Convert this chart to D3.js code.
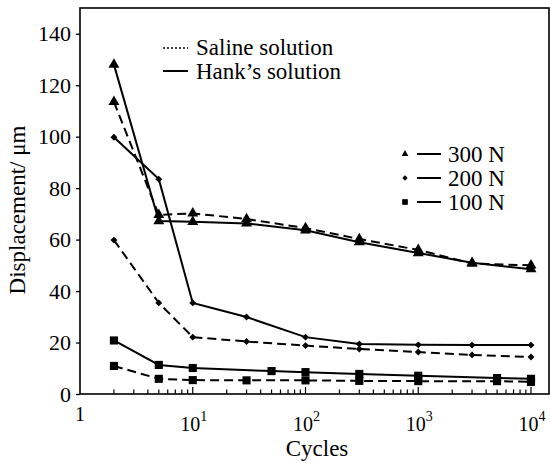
<!DOCTYPE html>
<html>
<head>
	<meta charset="utf-8">
	<title>Displacement vs cycles</title>
	<script src="https://cdn.jsdelivr.net/npm/d3@7/dist/d3.min.js"></script>
	<style type="text/css">
		body { margin: 0; background: #fff; }
		svg { display: block; }
		svg text { font-family: "Liberation Serif", "Times New Roman", serif; fill: #000; }
	</style>
</head>
<body>

	<svg width="550" height="463" class="chart"></svg>

	<script type="text/javascript">

		// cycles where each series was measured
		var cycles = [2, 5, 10, 30, 100, 300, 1000, 3000, 10000]
		var cycles_hank100 = [2, 5, 10, 50, 100, 300, 1000, 5000, 10000]
		var cycles_saline100 = [2, 5, 10, 30, 100, 300, 1000, 5000, 10000]

		// displacement, um
		var hank300 = [128, 67.2, 66.9, 66.3, 63.6, 59, 54.8, 51, 48.5]
		var saline300 = [113.5, 69.6, 70.2, 68, 64.5, 60.2, 56, 50.7, 50]
		var hank200 = [99.8, 83.5, 35.4, 29.9, 22.1, 19.4, 19.1, 19, 19]
		var saline200 = [59.8, 35.4, 22.1, 20.4, 18.8, 17.5, 16.3, 15.2, 14.4]
		var hank100 = [20.8, 11.3, 10.1, 8.9, 8.5, 7.8, 7.1, 6.2, 5.9]
		var saline100 = [10.9, 5.9, 5.4, 5.3, 5.3, 5.1, 5.0, 5.0, 4.7]

		var y_ticks = [0, 20, 40, 60, 80, 100, 120, 140]
		var x_major = [1, 10, 100, 1000, 10000]
		var x_labels = ['1', '1', '2', '3', '4']   // '1' alone, else exponent of 10

		var load_labels = ['300 N', '200 N', '100 N']
		var solution_labels = ['Saline solution', 'Hank\u2019s solution']

		function zip(xs, ys) {
			return xs.map(function(x, i) { return {x: x, y: ys[i]} })
		}

		// diamonds = squares turned 45 degrees
		var series = [
			{data: zip(cycles, hank300), shape: d3.symbolTriangle, size: 52, rot: 0, dash: null},
			{data: zip(cycles, saline300), shape: d3.symbolTriangle, size: 52, rot: 0, dash: '9,5'},
			{data: zip(cycles, hank200), shape: d3.symbolSquare, size: 24, rot: 45, dash: null},
			{data: zip(cycles, saline200), shape: d3.symbolSquare, size: 24, rot: 45, dash: '9,5'},
			{data: zip(cycles_hank100, hank100), shape: d3.symbolSquare, size: 66, rot: 0, dash: null},
			{data: zip(cycles_saline100, saline100), shape: d3.symbolSquare, size: 66, rot: 0, dash: '9,5'}
		]

		var box = {'left': 80, 'right': 549, 'top': 8, 'bottom': 394}

		var svg = d3.select('.chart')

		var x = d3.scaleLog().domain([1, 10000]).range([80, 531])
		var y = d3.scaleLinear().domain([0, 150]).range([box.bottom, box.top])

		// frame
		svg.append('rect')
			.attr('x', box.left).attr('y', box.top)
			.attr('width', box.right - box.left).attr('height', box.bottom - box.top)
			.attr('fill', 'none').attr('stroke', '#000').attr('stroke-width', 1.6)

		// y axis
		var gy = svg.append('g')
			.attr('transform', 'translate(' + box.left + ',0)')
			.call(d3.axisLeft(y).tickValues(y_ticks).tickSize(4).tickPadding(5))
		gy.attr('font-family', null)
		gy.select('.domain').remove()
		gy.selectAll('line').attr('stroke', '#000').attr('stroke-width', 1.3)
		gy.selectAll('text').attr('font-size', 22).attr('fill', '#000')

		// x axis: minor ticks from the scale, majors separately
		var minor = x.ticks().filter(function(t) { return x_major.indexOf(t) < 0 })
		var gx = svg.append('g').attr('transform', 'translate(0,' + box.bottom + ')')
		gx.selectAll('.minor').data(minor).enter().append('line')
			.attr('x1', function(d) { return x(d) }).attr('x2', function(d) { return x(d) })
			.attr('y1', 0).attr('y2', -4.5)
			.attr('stroke', '#000').attr('stroke-width', 1.2)
		gx.selectAll('.major').data(x_major.slice(1)).enter().append('line')
			.attr('x1', function(d) { return x(d) }).attr('x2', function(d) { return x(d) })
			.attr('y1', 0).attr('y2', -7)
			.attr('stroke', '#000').attr('stroke-width', 1.2)

		x_major.forEach(function(v, i) {
			if (i == 0) {
				svg.append('text')
					.attr('x', x(v)).attr('y', 421)
					.attr('text-anchor', 'middle').attr('font-size', 20)
					.text(x_labels[i])
			} else {
				var t = svg.append('text')
					.attr('x', x(v) + 1).attr('y', 431)
					.attr('text-anchor', 'middle').attr('font-size', 20)
				t.append('tspan').text('10')
				t.append('tspan').attr('dy', -10).attr('font-size', 14).text(x_labels[i])
			}
		})

		// axis titles
		svg.append('text')
			.attr('x', 317).attr('y', 456)
			.attr('text-anchor', 'middle').attr('font-size', 23)
			.text('Cycles')

		svg.append('text')
			.attr('transform', 'translate(25,210) rotate(-90)')
			.attr('text-anchor', 'middle').attr('font-size', 23)
			.text('Displacement/ \u03bcm')

		// lines and markers
		var line = d3.line()
			.x(function(d) { return x(d.x) })
			.y(function(d) { return y(d.y) })
			.curve(d3.curveLinear)

		series.forEach(function(s) {
			svg.append('path')
				.attr('d', line(s.data))
				.attr('fill', 'none')
				.attr('stroke', '#000')
				.attr('stroke-width', 2)
				.attr('stroke-dasharray', s.dash)

			svg.append('g').selectAll('path')
				.data(s.data).enter().append('path')
				.attr('transform', function(d) {
					return 'translate(' + x(d.x) + ',' + y(d.y) + ') rotate(' + s.rot + ')'
				})
				.attr('d', d3.symbol().type(s.shape).size(s.size))
				.attr('fill', '#000')
		})

		// legend: solutions
		var dashes = ['2,2', null]
		solution_labels.forEach(function(lab, i) {
			var ly = [48, 71][i]
			svg.append('line')
				.attr('x1', 163).attr('x2', 188).attr('y1', ly).attr('y2', ly)
				.attr('stroke', '#000').attr('stroke-width', i == 0 ? 1.5 : 2)
				.attr('stroke-dasharray', dashes[i])
			svg.append('text')
				.attr('x', 196).attr('y', [55, 79][i])
				.attr('font-size', 23)
				.text(lab)
		})

		// legend: loads
		var load_shapes = [d3.symbolTriangle, d3.symbolSquare, d3.symbolSquare]
		var load_sizes = [20, 14, 32]
		var load_rot = [0, 45, 0]
		load_labels.forEach(function(lab, i) {
			var ly = 154 + i * 24
			svg.append('path')
				.attr('transform', 'translate(405,' + ly + ') rotate(' + load_rot[i] + ')')
				.attr('d', d3.symbol().type(load_shapes[i]).size(load_sizes[i]))
				.attr('fill', '#000')
			svg.append('line')
				.attr('x1', 417).attr('x2', 441).attr('y1', ly).attr('y2', ly)
				.attr('stroke', '#000').attr('stroke-width', 2)
			svg.append('text')
				.attr('x', 448).attr('y', ly + 8)
				.attr('font-size', 23)
				.text(lab)
		})

	</script>

</body>
</html>
